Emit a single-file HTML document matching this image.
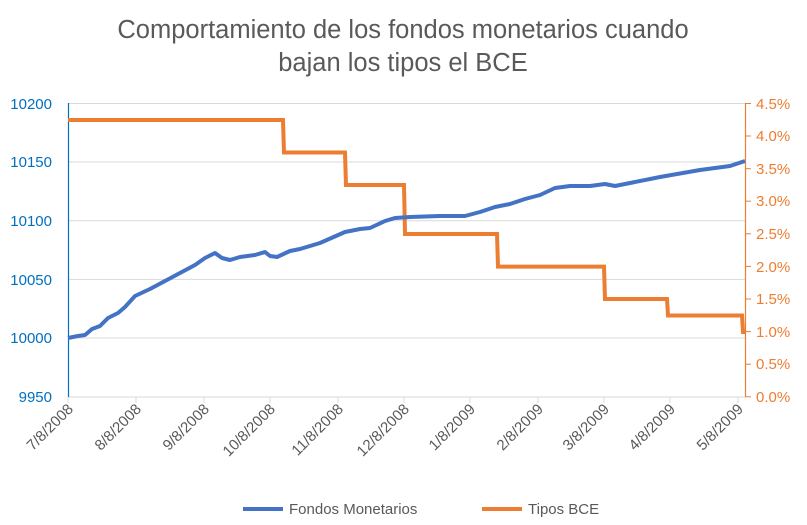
<!DOCTYPE html>
<html><head><meta charset="utf-8"><style>body{margin:0;background:#fff}svg{display:block;font-family:"Liberation Sans",sans-serif}</style></head><body>
<svg width="807" height="525" xmlns="http://www.w3.org/2000/svg">
<rect width="807" height="525" fill="#fff"/>
<text x="403" y="38" font-size="25.5" fill="#595959" text-anchor="middle">Comportamiento de los fondos monetarios cuando</text>
<text x="403" y="71" font-size="25.5" fill="#595959" text-anchor="middle">bajan los tipos el BCE</text>
<g stroke="#d9d9d9" stroke-width="1">
<line x1="68" x2="745" y1="103.5" y2="103.5"/><line x1="68" x2="745" y1="162" y2="162"/><line x1="68" x2="745" y1="220.8" y2="220.8"/><line x1="68" x2="745" y1="279.4" y2="279.4"/><line x1="68" x2="745" y1="338" y2="338"/><line x1="68" x2="745" y1="397" y2="397"/>
<line x1="68" x2="68" y1="397" y2="403"/><line x1="136" x2="136" y1="397" y2="403"/><line x1="204" x2="204" y1="397" y2="403"/><line x1="270" x2="270" y1="397" y2="403"/><line x1="338" x2="338" y1="397" y2="403"/><line x1="404" x2="404" y1="397" y2="403"/><line x1="470" x2="470" y1="397" y2="403"/><line x1="538" x2="538" y1="397" y2="403"/><line x1="604" x2="604" y1="397" y2="403"/><line x1="670" x2="670" y1="397" y2="403"/><line x1="738" x2="738" y1="397" y2="403"/>
</g>
<line x1="68.5" x2="68.5" y1="103" y2="397" stroke="#0070c0" stroke-width="1.2"/>
<line x1="745.5" x2="745.5" y1="103" y2="397" stroke="#ed7d31" stroke-width="1.2"/>
<g stroke="#ed7d31"><line x1="745" x2="751" y1="103.5" y2="103.5"/><line x1="745" x2="751" y1="136" y2="136"/><line x1="745" x2="751" y1="168.7" y2="168.7"/><line x1="745" x2="751" y1="201.2" y2="201.2"/><line x1="745" x2="751" y1="233.8" y2="233.8"/><line x1="745" x2="751" y1="266.4" y2="266.4"/><line x1="745" x2="751" y1="299" y2="299"/><line x1="745" x2="751" y1="331.6" y2="331.6"/><line x1="745" x2="751" y1="364.2" y2="364.2"/><line x1="745" x2="751" y1="396.8" y2="396.8"/></g>
<g font-size="15" fill="#0070c0" text-anchor="end">
<text x="52" y="109">10200</text><text x="52" y="167">10150</text><text x="52" y="226">10100</text><text x="52" y="285">10050</text><text x="52" y="343">10000</text><text x="52" y="402">9950</text></g>
<g font-size="15" fill="#ed7d31">
<text x="756" y="109">4.5%</text><text x="756" y="141">4.0%</text><text x="756" y="174">3.5%</text><text x="756" y="206">3.0%</text><text x="756" y="239">2.5%</text><text x="756" y="272">2.0%</text><text x="756" y="304">1.5%</text><text x="756" y="337">1.0%</text><text x="756" y="369">0.5%</text><text x="756" y="402">0.0%</text></g>
<g font-size="15" fill="#595959" text-anchor="end">
<text transform="translate(74,410) rotate(-45)">7/8/2008</text><text transform="translate(142,410) rotate(-45)">8/8/2008</text><text transform="translate(210,410) rotate(-45)">9/8/2008</text><text transform="translate(276,410) rotate(-45)">10/8/2008</text><text transform="translate(344,410) rotate(-45)">11/8/2008</text><text transform="translate(410,410) rotate(-45)">12/8/2008</text><text transform="translate(476,410) rotate(-45)">1/8/2009</text><text transform="translate(544,410) rotate(-45)">2/8/2009</text><text transform="translate(610,410) rotate(-45)">3/8/2009</text><text transform="translate(676,410) rotate(-45)">4/8/2009</text><text transform="translate(744,410) rotate(-45)">5/8/2009</text></g>
<polyline fill="none" stroke="#ed7d31" stroke-width="4" points="68,120 283,120 284,152.5 345,152.5 346,185 404,185 405,234 497,234 498,266.6 604,266.6 605,299 667,299 668,315.5 742,315.5 743,332 745,332"/>
<polyline fill="none" stroke="#4472c4" stroke-width="4" stroke-linejoin="round" points="68,338 78,336 85,335 92,329 100,326 108,318 118,313 125,307 135,296 150,289 165,281 180,273 195,265 205,258 215,253 222,258 230,260 240,257 255,255 265,252 270,256 277,257 290,251 300,249 320,243 345,232 360,229 370,228 385,221 395,218 410,217 440,216 465,216 480,212 495,207 510,204 525,199 540,195 555,188 570,186 590,186 605,184 615,186 630,183 660,177 700,170 730,166 745,161"/>
<line x1="243" x2="283" y1="509" y2="509" stroke="#4472c4" stroke-width="4"/>
<text x="289" y="514" font-size="15" fill="#595959">Fondos Monetarios</text>
<line x1="482" x2="522" y1="509" y2="509" stroke="#ed7d31" stroke-width="4"/>
<text x="528" y="514" font-size="15" fill="#595959">Tipos BCE</text>
</svg>
</body></html>
